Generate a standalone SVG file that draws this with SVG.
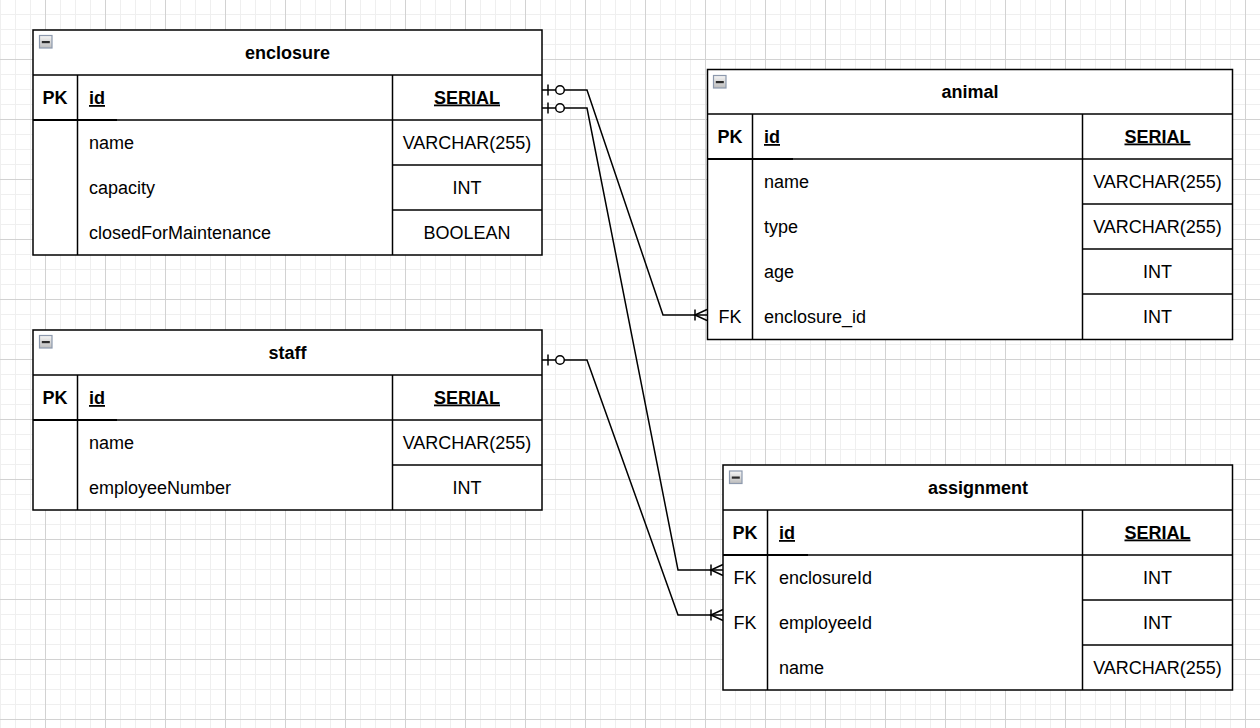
<svg xmlns="http://www.w3.org/2000/svg" width="1260" height="728" viewBox="0 0 1260 728">
  <defs>
    <style>
      text { font-family: "Liberation Sans", Arial, Helvetica, sans-serif; font-size: 18px; fill: #000; }
      .title { font-weight: bold; text-anchor: middle; }
      .pk { font-weight: bold; text-anchor: middle; }
      .fk { text-anchor: middle; }
      .pkname { font-weight: bold; text-decoration: underline; }
      .type { text-anchor: middle; }
      .pktype { font-weight: bold; text-decoration: underline; text-anchor: middle; }
      .frame { fill: #fff; stroke: #000; stroke-width: 1.5; }
      .ln { stroke: #000; stroke-width: 1.5; fill: none; }
      .pkrule { stroke: #000; stroke-width: 2.1; }
      .edge { stroke: #000; stroke-width: 1.5; fill: none; }
      .minor { fill: #efefef; }
      .major { fill: #d2d2d2; }
    </style>
    <linearGradient id="btnFill" x1="0" y1="0" x2="0" y2="1">
      <stop offset="0" stop-color="#f6f6f6"/>
      <stop offset="1" stop-color="#bcbcbc"/>
    </linearGradient>
    <!-- background grid: minor every 15px, major every 60px -->
    <pattern id="grid" patternUnits="userSpaceOnUse" x="45" y="59" width="60" height="60">
      <rect class="minor" x="15" y="0" width="1" height="60"/>
      <rect class="minor" x="30" y="0" width="1" height="60"/>
      <rect class="minor" x="45" y="0" width="1" height="60"/>
      <rect class="minor" x="0" y="15" width="60" height="1"/>
      <rect class="minor" x="0" y="30" width="60" height="1"/>
      <rect class="minor" x="0" y="45" width="60" height="1"/>
      <rect class="major" x="0" y="0" width="1" height="60"/>
      <rect class="major" x="0" y="0" width="60" height="1"/>
    </pattern>
    <!-- table collapse toggle -->
    <g id="toggle">
      <rect x="0.5" y="0.5" width="12.5" height="12.5" fill="url(#btnFill)" stroke="#8d99ad" stroke-width="1.2"/>
      <rect x="2.8" y="6" width="8" height="2.2" fill="#2b2b2b"/>
    </g>
    <!-- crow's foot ends -->
    <g id="zeroOrOne">
      <line x1="6" y1="-5.5" x2="6" y2="5.5" stroke="#000" stroke-width="1.5"/>
      <circle cx="18" cy="0" r="4.3" fill="#fff" stroke="#000" stroke-width="1.5"/>
    </g>
    <g id="oneOrMany">
      <line x1="-12" y1="-5.5" x2="-12" y2="5.5" stroke="#000" stroke-width="1.5"/>
      <path d="M0,-5.5 L-12,0 L0,5.5" fill="none" stroke="#000" stroke-width="1.5"/>
    </g>
  </defs>

  <rect x="0" y="0" width="1260" height="728" fill="#fff"/>
  <rect x="0" y="0" width="1260" height="728" fill="url(#grid)"/>

  <!-- relationships -->
  <g id="connectors">
    <path class="edge" d="M542,90 H587 L663,315 H707"/>
    <path class="edge" d="M542,108 H587 L678,570 H723"/>
    <path class="edge" d="M542,360 H587 L678,615 H723"/>
    <use href="#zeroOrOne" transform="translate(542,90)"/>
    <use href="#zeroOrOne" transform="translate(542,108)"/>
    <use href="#zeroOrOne" transform="translate(542,360)"/>
    <use href="#oneOrMany" transform="translate(707,315)"/>
    <use href="#oneOrMany" transform="translate(723,570)"/>
    <use href="#oneOrMany" transform="translate(723,615)"/>
  </g>

  <!-- enclosure -->
  <g id="enclosure">
    <rect class="frame" x="33" y="30" width="509" height="225"/>
    <use href="#toggle" x="39" y="35"/>
    <text class="title" x="287.5" y="59">enclosure</text>
    <line class="ln" x1="33" y1="75" x2="542" y2="75"/>
    <line class="ln" x1="77.5" y1="75" x2="77.5" y2="255"/>
    <line class="ln" x1="392.5" y1="75" x2="392.5" y2="255"/>
    <line class="ln" x1="33" y1="120" x2="542" y2="120"/>
    <line class="pkrule" x1="33" y1="120" x2="117" y2="120"/>
    <line class="ln" x1="392.5" y1="165" x2="542" y2="165"/>
    <line class="ln" x1="392.5" y1="210" x2="542" y2="210"/>
    <text class="pk" x="55" y="104">PK</text>
    <text class="pkname" x="89" y="104">id</text>
    <text class="pktype" x="467" y="103.5">SERIAL</text>
    <text x="89" y="149">name</text>
    <text class="type" x="467" y="148.5">VARCHAR(255)</text>
    <text x="89" y="194">capacity</text>
    <text class="type" x="467" y="193.5">INT</text>
    <text x="89" y="239">closedForMaintenance</text>
    <text class="type" x="467" y="238.5">BOOLEAN</text>
  </g>

  <!-- staff -->
  <g id="staff">
    <rect class="frame" x="33" y="330" width="509" height="180"/>
    <use href="#toggle" x="39" y="335"/>
    <text class="title" x="287.5" y="359">staff</text>
    <line class="ln" x1="33" y1="375" x2="542" y2="375"/>
    <line class="ln" x1="77.5" y1="375" x2="77.5" y2="510"/>
    <line class="ln" x1="392.5" y1="375" x2="392.5" y2="510"/>
    <line class="ln" x1="33" y1="420" x2="542" y2="420"/>
    <line class="pkrule" x1="33" y1="420" x2="117" y2="420"/>
    <line class="ln" x1="392.5" y1="465" x2="542" y2="465"/>
    <text class="pk" x="55" y="404">PK</text>
    <text class="pkname" x="89" y="404">id</text>
    <text class="pktype" x="467" y="403.5">SERIAL</text>
    <text x="89" y="449">name</text>
    <text class="type" x="467" y="448.5">VARCHAR(255)</text>
    <text x="89" y="494">employeeNumber</text>
    <text class="type" x="467" y="493.5">INT</text>
  </g>

  <!-- animal -->
  <g id="animal">
    <rect class="frame" x="707.5" y="69.5" width="525" height="270"/>
    <use href="#toggle" x="713" y="75"/>
    <text class="title" x="970" y="98">animal</text>
    <line class="ln" x1="707.5" y1="114" x2="1232.5" y2="114"/>
    <line class="ln" x1="752.5" y1="114" x2="752.5" y2="339.5"/>
    <line class="ln" x1="1082.5" y1="114" x2="1082.5" y2="339.5"/>
    <line class="ln" x1="707.5" y1="159" x2="1232.5" y2="159"/>
    <line class="pkrule" x1="707.5" y1="159" x2="793" y2="159"/>
    <line class="ln" x1="1082.5" y1="204" x2="1232.5" y2="204"/>
    <line class="ln" x1="1082.5" y1="249" x2="1232.5" y2="249"/>
    <line class="ln" x1="1082.5" y1="294" x2="1232.5" y2="294"/>
    <text class="pk" x="730" y="143">PK</text>
    <text class="pkname" x="764" y="143">id</text>
    <text class="pktype" x="1157.5" y="142.5">SERIAL</text>
    <text x="764" y="188">name</text>
    <text class="type" x="1157.5" y="187.5">VARCHAR(255)</text>
    <text x="764" y="233">type</text>
    <text class="type" x="1157.5" y="232.5">VARCHAR(255)</text>
    <text x="764" y="278">age</text>
    <text class="type" x="1157.5" y="277.5">INT</text>
    <text class="fk" x="730" y="323">FK</text>
    <text x="764" y="323">enclosure_id</text>
    <text class="type" x="1157.5" y="322.5">INT</text>
  </g>

  <!-- assignment -->
  <g id="assignment">
    <rect class="frame" x="723" y="465" width="509.5" height="225"/>
    <use href="#toggle" x="729" y="470.5"/>
    <text class="title" x="978" y="494">assignment</text>
    <line class="ln" x1="723" y1="510" x2="1232.5" y2="510"/>
    <line class="ln" x1="767.5" y1="510" x2="767.5" y2="690"/>
    <line class="ln" x1="1082.5" y1="510" x2="1082.5" y2="690"/>
    <line class="ln" x1="723" y1="555" x2="1232.5" y2="555"/>
    <line class="pkrule" x1="723" y1="555" x2="808" y2="555"/>
    <line class="ln" x1="1082.5" y1="600" x2="1232.5" y2="600"/>
    <line class="ln" x1="1082.5" y1="645" x2="1232.5" y2="645"/>
    <text class="pk" x="745" y="539">PK</text>
    <text class="pkname" x="779" y="539">id</text>
    <text class="pktype" x="1157.5" y="538.5">SERIAL</text>
    <text class="fk" x="745" y="584">FK</text>
    <text x="779" y="584">enclosureId</text>
    <text class="type" x="1157.5" y="583.5">INT</text>
    <text class="fk" x="745" y="629">FK</text>
    <text x="779" y="629">employeeId</text>
    <text class="type" x="1157.5" y="628.5">INT</text>
    <text x="779" y="674">name</text>
    <text class="type" x="1157.5" y="673.5">VARCHAR(255)</text>
  </g>
</svg>
